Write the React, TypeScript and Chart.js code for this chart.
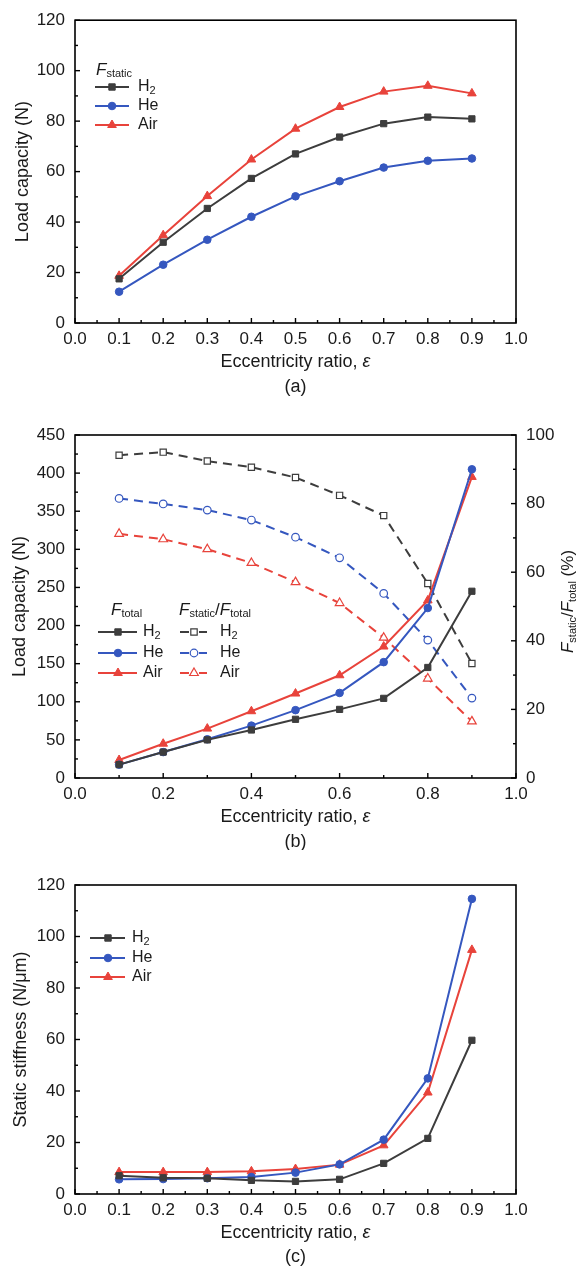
import React, { useEffect, useRef } from 'react';
import { Chart, registerables } from 'chart.js';
Chart.register(...registerables);

const FONT = '"Liberation Sans", Arial, Helvetica, sans-serif';
const TXT = '#1a1a1a';

// eccentricity ratio
const ECC = [0.1, 0.2, 0.3, 0.4, 0.5, 0.6, 0.7, 0.8, 0.9];

// (a) static load capacity (N)
const STATIC_H2 = [17.5, 32.0, 45.4, 57.3, 67.0, 73.7, 79.0, 81.6, 80.9];
const STATIC_HE = [12.4, 23.1, 33.0, 42.1, 50.2, 56.2, 61.6, 64.3, 65.2];
const STATIC_AIR = [18.7, 34.8, 50.3, 64.8, 77.0, 85.6, 91.7, 94.0, 91.0];

// (b) total load capacity (N)
const TOTAL_H2 = [17.5, 34.0, 50.0, 63.0, 77.0, 90.0, 104.5, 145.0, 245.0];
const TOTAL_HE = [17.5, 34.0, 50.8, 68.7, 89.0, 111.6, 152.0, 223.0, 405.0];
const TOTAL_AIR = [23.6, 45.0, 64.8, 87.6, 110.8, 134.8, 172.5, 233.0, 395.0];
// (b) F_static / F_total (%)
const RATIO_H2 = [94.1, 95.0, 92.4, 90.6, 87.6, 82.4, 76.5, 56.7, 33.4];
const RATIO_HE = [81.5, 79.9, 78.1, 75.2, 70.2, 64.2, 53.8, 40.2, 23.3];
const RATIO_AIR = [71.2, 69.6, 66.7, 62.7, 57.1, 51.0, 40.9, 29.0, 16.5];

// (c) static stiffness (N/um)
const STIFF_H2 = [7.1, 6.3, 6.1, 5.3, 4.9, 5.7, 11.9, 21.6, 59.7];
const STIFF_HE = [5.7, 5.8, 6.1, 6.6, 8.3, 11.5, 21.1, 44.9, 114.6];
const STIFF_AIR = [8.5, 8.5, 8.5, 8.8, 9.7, 11.4, 18.9, 39.4, 94.8];

const C_H2 = '#3d3d3d';
const C_HE = '#3557bf';
const C_AIR = '#e8433b';

type Part = { t: string; it?: boolean; sz: number; dy?: number };

function setFont(ctx: CanvasRenderingContext2D, p: Part) {
  ctx.font = `${p.it ? 'italic ' : ''}${p.sz}px ${FONT}`;
}

function drawRich(ctx: CanvasRenderingContext2D, parts: Part[], x: number, y: number, align: 'left' | 'center') {
  ctx.textBaseline = 'middle';
  ctx.textAlign = 'left';
  ctx.fillStyle = TXT;
  let w = 0;
  for (const p of parts) { setFont(ctx, p); w += ctx.measureText(p.t).width; }
  let cx = align === 'center' ? x - w / 2 : x;
  for (const p of parts) {
    setFont(ctx, p);
    ctx.fillText(p.t, cx, y + (p.dy || 0));
    cx += ctx.measureText(p.t).width;
  }
}

function drawRot(ctx: CanvasRenderingContext2D, parts: Part[], x: number, y: number) {
  ctx.save();
  ctx.translate(x, y);
  ctx.rotate(-Math.PI / 2);
  drawRich(ctx, parts, 0, 0, 'center');
  ctx.restore();
}

function marker(ctx: CanvasRenderingContext2D, style: string, x: number, y: number, color: string, filled: boolean) {
  ctx.save();
  ctx.beginPath();
  if (style === 'rect') {
    ctx.rect(x - 3.2, y - 3.2, 6.4, 6.4);
  } else if (style === 'circle') {
    ctx.arc(x, y, 3.8, 0, Math.PI * 2);
  } else {
    const r = 5;
    ctx.moveTo(x, y - r);
    ctx.lineTo(x + r * Math.sin(Math.PI / 3), y + r * 0.5);
    ctx.lineTo(x - r * Math.sin(Math.PI / 3), y + r * 0.5);
    ctx.closePath();
  }
  ctx.fillStyle = filled ? color : '#fff';
  ctx.fill();
  ctx.strokeStyle = color;
  ctx.lineWidth = filled ? 1 : 1.2;
  ctx.stroke();
  ctx.restore();
}

function legendRow(ctx: CanvasRenderingContext2D, label: Part[], color: string, style: string, x1: number, x2: number, mx: number, tx: number, y: number, dashed: boolean) {
  ctx.save();
  ctx.strokeStyle = color;
  ctx.lineWidth = 2;
  ctx.beginPath();
  if (dashed) {
    ctx.moveTo(x1, y); ctx.lineTo(mx - 5, y);
    ctx.moveTo(mx + 5, y); ctx.lineTo(x2, y);
  } else {
    ctx.moveTo(x1, y); ctx.lineTo(x2, y);
  }
  ctx.stroke();
  ctx.restore();
  marker(ctx, style, mx, y, color, !dashed);
  drawRich(ctx, label, tx, y, 'left');
}

const LBL_H2: Part[] = [{ t: 'H', sz: 16 }, { t: '2', sz: 11, dy: 4 }];
const LBL_HE: Part[] = [{ t: 'He', sz: 16 }];
const LBL_AIR: Part[] = [{ t: 'Air', sz: 16 }];
const XTITLE: Part[] = [{ t: 'Eccentricity ratio, ', sz: 18 }, { t: 'ε', it: true, sz: 18 }];

function pts(ys: number[]) {
  return ECC.map((x, i) => ({ x, y: ys[i] }));
}

function ds(label: string, ys: number[], color: string, style: string, extra: any = {}) {
  const filled = extra.open ? false : true;
  return {
    label,
    data: pts(ys),
    borderColor: color,
    backgroundColor: color,
    pointStyle: style,
    pointRadius: style === 'rect' ? 4.4 : style === 'triangle' ? 5 : 3.8,
    pointBorderWidth: filled ? 1 : 1.2,
    pointBackgroundColor: filled ? color : '#ffffff',
    pointBorderColor: color,
    borderWidth: 2,
    tension: 0,
    borderDash: extra.dash || [],
    yAxisID: extra.yAxisID || 'y',
  };
}

type TickSpec = { id: string; major: number; minor: number; side: 'bottom' | 'left' | 'right' };

function decor(ticks: TickSpec[], texts: (ctx: CanvasRenderingContext2D, chart: any) => void) {
  return {
    id: 'decor',
    afterDraw(chart: any) {
      const ctx: CanvasRenderingContext2D = chart.ctx;
      const a = chart.chartArea;
      ctx.save();
      ctx.strokeStyle = '#000';
      ctx.lineWidth = 1.6;
      ctx.strokeRect(a.left, a.top, a.right - a.left, a.bottom - a.top);
      ctx.lineWidth = 1.4;
      for (const t of ticks) {
        const s = chart.scales[t.id];
        const n = Math.round((s.max - s.min) / t.minor);
        for (let i = 0; i <= n; i++) {
          const v = s.min + i * t.minor;
          const q = v / t.major;
          const isMajor = Math.abs(q - Math.round(q)) < 1e-6;
          const len = isMajor ? 5 : 3;
          const p = s.getPixelForValue(v);
          ctx.beginPath();
          if (t.side === 'bottom') { ctx.moveTo(p, a.bottom); ctx.lineTo(p, a.bottom - len); }
          else if (t.side === 'left') { ctx.moveTo(a.left, p); ctx.lineTo(a.left + len, p); }
          else { ctx.moveTo(a.right, p); ctx.lineTo(a.right - len, p); }
          ctx.stroke();
        }
      }
      ctx.restore();
      ctx.save();
      texts(ctx, chart);
      ctx.restore();
    },
  };
}

function tickFont() {
  return { size: 17, family: FONT };
}

function xScale(step: number, h: number) {
  return {
    type: 'linear',
    min: 0,
    max: 1,
    grid: { display: false, drawTicks: false },
    border: { display: false },
    ticks: {
      stepSize: step,
      padding: 6,
      font: tickFont(),
      color: TXT,
      autoSkip: false,
      maxRotation: 0,
      callback: (v: any) => Number(v).toFixed(1),
    },
    afterFit: (s: any) => { s.height = h; },
  };
}

function yScale(max: number, step: number, w: number, pos: 'left' | 'right') {
  return {
    type: 'linear',
    position: pos,
    min: 0,
    max,
    grid: { display: false, drawTicks: false },
    border: { display: false },
    ticks: { stepSize: step, padding: 10, font: tickFont(), color: TXT },
    afterFit: (s: any) => { s.width = w; },
  };
}

function baseOptions(padTop: number, padRight: number, scales: any) {
  return {
    responsive: false,
    maintainAspectRatio: false,
    animation: false,
    layout: { padding: { top: padTop, right: padRight, left: 0, bottom: 0 } },
    plugins: { legend: { display: false }, tooltip: { enabled: false } },
    scales,
  };
}

function makeA(canvas: HTMLCanvasElement) {
  return new Chart(canvas, {
    type: 'line',
    data: {
      datasets: [
        ds('H2', STATIC_H2, C_H2, 'rect'),
        ds('He', STATIC_HE, C_HE, 'circle'),
        ds('Air', STATIC_AIR, C_AIR, 'triangle'),
      ],
    },
    options: baseOptions(16, 66, { x: xScale(0.1, 87), y: yScale(120, 20, 75, 'left') }) as any,
    plugins: [decor(
      [{ id: 'x', major: 0.1, minor: 0.05, side: 'bottom' }, { id: 'y', major: 20, minor: 10, side: 'left' }],
      (ctx, chart) => {
        const a = chart.chartArea;
        const cx = (a.left + a.right) / 2;
        drawRich(ctx, XTITLE, cx, 362, 'center');
        drawRich(ctx, [{ t: '(a)', sz: 18 }], cx, 387, 'center');
        drawRot(ctx, [{ t: 'Load capacity (N)', sz: 18 }], 23, (a.top + a.bottom) / 2);
        drawRich(ctx, [{ t: 'F', it: true, sz: 17 }, { t: 'static', sz: 11, dy: 4 }], 96, 70, 'left');
        legendRow(ctx, LBL_H2, C_H2, 'rect', 95, 129, 112, 138, 87, false);
        legendRow(ctx, LBL_HE, C_HE, 'circle', 95, 129, 112, 138, 106, false);
        legendRow(ctx, LBL_AIR, C_AIR, 'triangle', 95, 129, 112, 138, 125, false);
      }
    )],
  } as any);
}

function makeB(canvas: HTMLCanvasElement) {
  return new Chart(canvas, {
    type: 'line',
    data: {
      datasets: [
        ds('H2 total', TOTAL_H2, C_H2, 'rect'),
        ds('He total', TOTAL_HE, C_HE, 'circle'),
        ds('Air total', TOTAL_AIR, C_AIR, 'triangle'),
        ds('H2 ratio', RATIO_H2, C_H2, 'rect', { open: true, dash: [9, 6], yAxisID: 'y2' }),
        ds('He ratio', RATIO_HE, C_HE, 'circle', { open: true, dash: [9, 6], yAxisID: 'y2' }),
        ds('Air ratio', RATIO_AIR, C_AIR, 'triangle', { open: true, dash: [9, 6], yAxisID: 'y2' }),
      ],
    },
    options: baseOptions(25, 0, {
      x: xScale(0.2, 72),
      y: yScale(450, 50, 75, 'left'),
      y2: yScale(100, 20, 66, 'right'),
    }) as any,
    plugins: [decor(
      [
        { id: 'x', major: 0.2, minor: 0.1, side: 'bottom' },
        { id: 'y', major: 50, minor: 25, side: 'left' },
        { id: 'y2', major: 20, minor: 10, side: 'right' },
      ],
      (ctx, chart) => {
        const a = chart.chartArea;
        const cx = (a.left + a.right) / 2;
        const cy = (a.top + a.bottom) / 2;
        drawRich(ctx, XTITLE, cx, 407, 'center');
        drawRich(ctx, [{ t: '(b)', sz: 18 }], cx, 432, 'center');
        drawRot(ctx, [{ t: 'Load capacity (N)', sz: 18 }], 20, cy);
        drawRot(ctx, [
          { t: 'F', it: true, sz: 17 }, { t: 'static', sz: 11, dy: 5 }, { t: '/', sz: 17 },
          { t: 'F', it: true, sz: 17 }, { t: 'total', sz: 11, dy: 5 }, { t: ' (%)', sz: 17 },
        ], 568, cy - 5);
        drawRich(ctx, [{ t: 'F', it: true, sz: 17 }, { t: 'total', sz: 11, dy: 4 }], 111, 200, 'left');
        drawRich(ctx, [
          { t: 'F', it: true, sz: 17 }, { t: 'static', sz: 11, dy: 4 }, { t: '/', sz: 17 },
          { t: 'F', it: true, sz: 17 }, { t: 'total', sz: 11, dy: 4 },
        ], 179, 200, 'left');
        const rows: [Part[], string, string, number][] = [
          [LBL_H2, C_H2, 'rect', 222],
          [LBL_HE, C_HE, 'circle', 243],
          [LBL_AIR, C_AIR, 'triangle', 263],
        ];
        for (const [lbl, col, st, y] of rows) {
          legendRow(ctx, lbl, col, st, 98, 137, 118, 143, y, false);
          legendRow(ctx, lbl, col, st, 180, 207, 194, 220, y, true);
        }
      }
    )],
  } as any);
}

function makeC(canvas: HTMLCanvasElement) {
  return new Chart(canvas, {
    type: 'line',
    data: {
      datasets: [
        ds('H2', STIFF_H2, C_H2, 'rect'),
        ds('He', STIFF_HE, C_HE, 'circle'),
        ds('Air', STIFF_AIR, C_AIR, 'triangle'),
      ],
    },
    options: baseOptions(35, 66, { x: xScale(0.1, 77), y: yScale(120, 20, 75, 'left') }) as any,
    plugins: [decor(
      [{ id: 'x', major: 0.1, minor: 0.05, side: 'bottom' }, { id: 'y', major: 20, minor: 10, side: 'left' }],
      (ctx, chart) => {
        const a = chart.chartArea;
        const cx = (a.left + a.right) / 2;
        drawRich(ctx, XTITLE, cx, 383, 'center');
        drawRich(ctx, [{ t: '(c)', sz: 18 }], cx, 407, 'center');
        drawRot(ctx, [{ t: 'Static stiffness (N/μm)', sz: 18 }], 21, (a.top + a.bottom) / 2);
        legendRow(ctx, LBL_H2, C_H2, 'rect', 90, 125, 108, 132, 88, false);
        legendRow(ctx, LBL_HE, C_HE, 'circle', 90, 125, 108, 132, 108, false);
        legendRow(ctx, LBL_AIR, C_AIR, 'triangle', 90, 125, 108, 132, 127, false);
      }
    )],
  } as any);
}

function Panel({ top, height, make }: { top: number; height: number; make: (c: HTMLCanvasElement) => Chart }) {
  const ref = useRef<HTMLCanvasElement>(null);
  useEffect(() => {
    const chart = make(ref.current as HTMLCanvasElement);
    return () => chart.destroy();
  }, []);
  return (
    <canvas
      ref={ref}
      width={582}
      height={height}
      style={{ position: 'absolute', left: 0, top, width: 582, height, display: 'block' }}
    />
  );
}

export default function App() {
  return (
    <div style={{ position: 'absolute', left: 0, top: 0, width: 582, height: 1271, overflow: 'hidden', background: '#fff' }}>
      <Panel top={0} height={410} make={makeA} />
      <Panel top={410} height={440} make={makeB} />
      <Panel top={850} height={421} make={makeC} />
    </div>
  );
}
